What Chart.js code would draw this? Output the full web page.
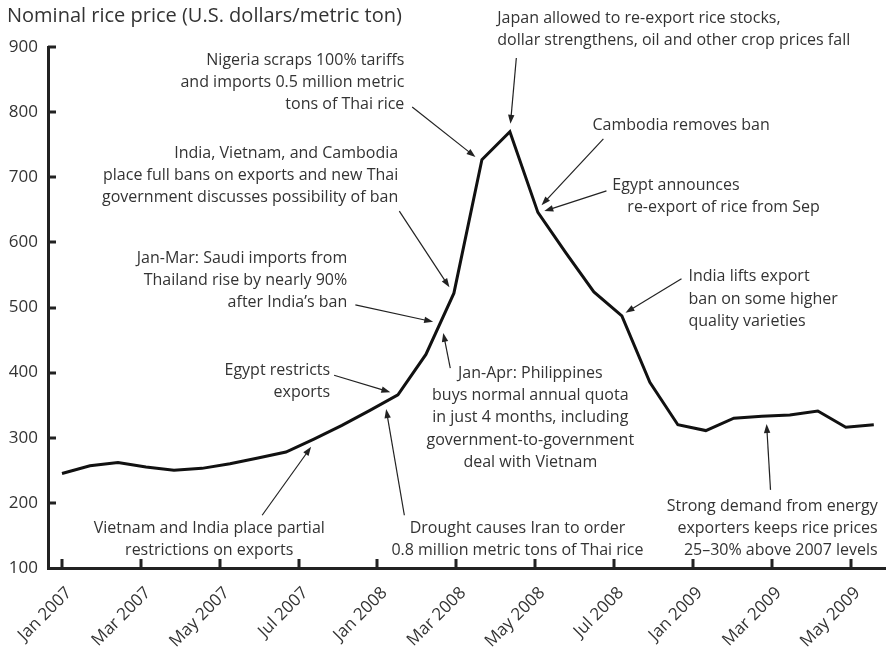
<!DOCTYPE html>
<html>
<head>
<meta charset="utf-8">
<script src="https://cdn.jsdelivr.net/npm/chart.js@4/dist/chart.umd.min.js"></script>
<style>
    html, body { margin: 0; padding: 0; background: #fff; }
</style>
</head>
<body>
<canvas id="chart" width="892" height="649"></canvas>
<script>
// monthly nominal rice price, Jan 2007 - Jun 2009
const MONTHS = [
    "Jan 2007", "Feb 2007", "Mar 2007", "Apr 2007", "May 2007", "Jun 2007",
    "Jul 2007", "Aug 2007", "Sep 2007", "Oct 2007", "Nov 2007", "Dec 2007",
    "Jan 2008", "Feb 2008", "Mar 2008", "Apr 2008", "May 2008", "Jun 2008",
    "Jul 2008", "Aug 2008", "Sep 2008", "Oct 2008", "Nov 2008", "Dec 2008",
    "Jan 2009", "Feb 2009", "Mar 2009", "Apr 2009", "May 2009", "Jun 2009"
]
const PRICES = [
    245, 257, 262, 255, 250, 253, 260, 269, 278, 298, 319, 342,
    366, 428, 522, 727, 770, 646, 584, 524, 487, 385, 320, 311,
    330, 333, 335, 341, 316, 320
]

// tick marks of the x axis (position on the month index) and their labels
const TICK_POS = [0, 2.82, 5.63, 8.45, 11.27, 14.08, 16.9, 19.72, 22.53, 25.35, 28.17]
const TICK_LABELS = [
    "Jan 2007", "Mar 2007", "May 2007", "Jul 2007", "Jan 2008", "Mar 2008",
    "May 2008", "Jul 2008", "Jan 2009", "Mar 2009", "May 2009"
]

const TITLE = "Nominal rice price (U.S. dollars/metric ton)"

/**
 * подписи с указателями; координаты в единицах осей (индекс месяца, цена)
 */
const NOTES = [
    { lines: ["Nigeria scraps 100% tariffs", "and imports 0.5 million metric", "tons of Thai rice"],
      at: [12.23, 880], align: "right", from: [12.51, 808], to: [14.77, 731] },
    { lines: ["Japan allowed to re-export rice stocks,", "dollar strengthens, oil and other crop prices fall"],
      at: [15.55, 944], align: "left", from: [16.23, 883], to: [16.02, 782] },
    { lines: ["Cambodia removes ban"],
      at: [18.95, 779], align: "left", from: [19.34, 759], to: [17.13, 657] },
    { lines: ["Egypt announces", "re-export of rice from Sep"], indent: [0, 15],
      at: [19.66, 688], align: "left", from: [19.45, 679], to: [17.23, 648] },
    { lines: ["India, Vietnam, and Cambodia", "place full bans on exports and new Thai", "government discusses possibility of ban"],
      at: [12.01, 737], align: "right", from: [12.05, 648], to: [13.84, 531] },
    { lines: ["Jan-Mar: Saudi imports from", "Thailand rise by nearly 90%", "after India\u2019s ban"],
      at: [10.19, 576], align: "right", from: [10.48, 504], to: [13.26, 478] },
    { lines: ["Jan-Apr: Philippines", "buys normal annual quota", "in just 4 months, including", "government-to-government", "deal with Vietnam"],
      at: [16.73, 399], align: "center", from: [13.87, 407], to: [13.62, 461] },
    { lines: ["Egypt restricts", "exports"],
      at: [9.58, 404], align: "right", from: [9.72, 396], to: [11.73, 370] },
    { lines: ["Vietnam and India place partial", "restrictions on exports"],
      at: [5.26, 161], align: "center", from: [7.15, 181], to: [8.9, 286] },
    { lines: ["Drought causes Iran to order", "0.8 million metric tons of Thai rice"],
      at: [16.27, 161], align: "center", from: [12.23, 181], to: [11.58, 344] },
    { lines: ["India lifts export", "ban on some higher", "quality varieties"],
      at: [22.38, 547], align: "left", from: [22.13, 544], to: [20.13, 492] },
    { lines: ["Strong demand from energy", "exporters keeps rice prices", "25\u201330% above 2007 levels"],
      at: [29.14, 195], align: "right", from: [25.31, 220], to: [25.17, 321] }
]

const TEXT_COLOR = "#333"
const AXIS_COLOR = "#222"
const FONT = "'Open Sans', Lato, sans-serif"

const drawArrow = (ctx, x1, y1, x2, y2) => {
    const ang = Math.atan2(y2 - y1, x2 - x1)
    const cos = Math.cos(ang), sin = Math.sin(ang)
    const len = 9, half = 3.2

    ctx.beginPath()
    ctx.moveTo(x1, y1)
    ctx.lineTo(x2 - cos * len * 0.7, y2 - sin * len * 0.7)
    ctx.stroke()

    ctx.beginPath()
    ctx.moveTo(x2, y2)
    ctx.lineTo(x2 - len * cos + half * sin, y2 - len * sin - half * cos)
    ctx.lineTo(x2 - len * cos - half * sin, y2 - len * sin + half * cos)
    ctx.closePath()
    ctx.fill()
}

// тики внутрь, заголовок и подписи со стрелками
const decorPlugin = {
    id: "decor",
    afterDraw(chart) {
        const { ctx, scales: { x, y } } = chart
        ctx.save()

        // ticks pointing into the plot
        ctx.strokeStyle = AXIS_COLOR
        ctx.lineWidth = 3
        ctx.beginPath()
        for (let v = 200; v <= 900; v += 100) {
            const py = Math.round(y.getPixelForValue(v))
            ctx.moveTo(x.left, py)
            ctx.lineTo(x.left + 8, py)
        }
        TICK_POS.forEach(t => {
            const px = Math.round(x.getPixelForValue(t))
            ctx.moveTo(px, y.bottom)
            ctx.lineTo(px, y.bottom - 9)
        })
        ctx.stroke()

        ctx.fillStyle = TEXT_COLOR
        ctx.textBaseline = "middle"
        ctx.font = `20px ${FONT}`
        ctx.textAlign = "left"
        ctx.fillText(TITLE, 7, 16)

        ctx.font = `16px ${FONT}`
        NOTES.forEach(n => {
            const px = x.getPixelForValue(n.at[0])
            const py = y.getPixelForValue(n.at[1])
            ctx.textAlign = n.align
            n.lines.forEach((line, i) => {
                const dx = n.indent ? n.indent[i] : 0
                ctx.fillText(line, px + dx, py + i * 22.3)
            })
        })

        ctx.strokeStyle = AXIS_COLOR
        ctx.fillStyle = AXIS_COLOR
        ctx.lineWidth = 1.2
        NOTES.forEach(n => {
            drawArrow(ctx,
                x.getPixelForValue(n.from[0]), y.getPixelForValue(n.from[1]),
                x.getPixelForValue(n.to[0]), y.getPixelForValue(n.to[1]))
        })

        ctx.restore()
    }
}

new Chart(document.getElementById("chart"), {
    type: "line",
    data: {
        datasets: [
            {
                label: "Nominal rice price",
                data: PRICES.map((v, i) => ({ x: i, y: v, month: MONTHS[i] })),
                borderColor: "#111",
                borderWidth: 3,
                fill: false,
                pointRadius: 0,
                tension: 0
            }
        ]
    },
    options: {
        responsive: false,
        animation: false,
        layout: { padding: { top: 47, right: 7, left: 0, bottom: 0 } },
        plugins: {
            legend: { display: false },
            tooltip: { enabled: false }
        },
        scales: {
            x: {
                type: "linear",
                min: -0.5,
                max: 29.4,
                afterBuildTicks: s => { s.ticks = TICK_POS.map(v => ({ value: v })) },
                afterFit: s => {
                    s.height = 81
                    s.paddingLeft = 0
                    s.paddingRight = 0
                },
                grid: { display: false, drawTicks: false },
                border: { display: true, color: AXIS_COLOR, width: 3 },
                ticks: {
                    autoSkip: false,
                    minRotation: 45,
                    maxRotation: 45,
                    padding: 15,
                    labelOffset: 7,
                    color: TEXT_COLOR,
                    font: { family: FONT, size: 17 },
                    callback: (v, i) => TICK_LABELS[i]
                }
            },
            y: {
                min: 100,
                max: 900,
                afterFit: s => { s.width = 48 },
                grid: { display: false, drawTicks: false },
                border: { display: true, color: AXIS_COLOR, width: 3 },
                ticks: {
                    stepSize: 100,
                    padding: 10,
                    color: TEXT_COLOR,
                    font: { family: FONT, size: 17 }
                }
            }
        }
    },
    plugins: [decorPlugin]
})
</script>
</body>
</html>
